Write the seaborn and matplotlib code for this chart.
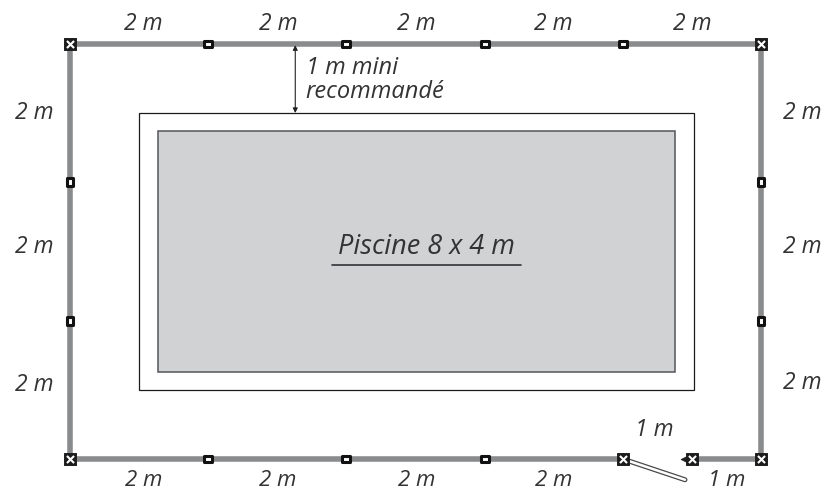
import matplotlib
matplotlib.use('Agg')
import matplotlib.pyplot as plt
from matplotlib.path import Path
from matplotlib.patches import Rectangle
import seaborn as sns

# everything in metres, origin = bottom left fence corner
fence_width = 10
fence_height = 6
gate_left = 8
gate_right = 9
gate_open = (8.9, -0.3)

posts_top = [2, 4, 6, 8]
posts_bottom = [2, 4, 6]
posts_side = [2, 4]

corners_x = [0, 10, 0, 10, 8, 9]
corners_y = [6, 6, 0, 0, 0, 0]

pool_outer = (1, 1, 8.03, 4)
pool_inner = (1.27, 1.26, 7.48, 3.48)

top_labels_x = [1.06, 3.01, 5.01, 7.0, 9.0]
bottom_labels_x = [1.06, 3.01, 5.01, 7.0]
left_labels_y = [5.0, 3.07, 1.07]
right_labels_y = [5.0, 3.07, 1.1]

FENCE = '#8a8b8d'
INK = '#333333'

sns.set_theme(style='white')
plt.rcParams['font.family'] = ['Open Sans', 'DejaVu Sans']

fig = plt.figure(figsize=(8.25, 4.92), dpi=100)
ax = fig.add_axes([0, 0, 1, 1])
ax.set_xlim(-70 / 69.1, 755 / 69.1)
ax.set_ylim(-33 / 69.2, 459 / 69.2)
ax.axis('off')

# pool
ax.add_patch(Rectangle(pool_outer[:2], pool_outer[2], pool_outer[3], fc='white', ec='#1a1a1a', lw=0.9))
ax.add_patch(Rectangle(pool_inner[:2], pool_inner[2], pool_inner[3], fc='#d1d2d4', ec='#55565a', lw=1.1))

# fence
fence_x = [gate_left, 0, 0, fence_width, fence_width, gate_right]
fence_y = [0, 0, fence_height, fence_height, 0, 0]
sns.lineplot(x=fence_x, y=fence_y, estimator=None, sort=False, color=FENCE, lw=4, ax=ax,
             solid_joinstyle='miter')

# gate leaf
gate_x = [gate_left, gate_open[0]]
gate_y = [0, gate_open[1]]
sns.lineplot(x=gate_x, y=gate_y, estimator=None, sort=False, color='#4a4a4a', lw=3.6, ax=ax)
sns.lineplot(x=gate_x, y=gate_y, estimator=None, sort=False, color='white', lw=1.8, ax=ax)

# intermediate posts, wider along the fence
flat = Path([(-1, -0.7), (1, -0.7), (1, 0.7), (-1, 0.7), (-1, -0.7)], closed=True)
tall = Path([(-0.7, -1), (0.7, -1), (0.7, 1), (-0.7, 1), (-0.7, -1)], closed=True)
sns.scatterplot(x=posts_top, y=[fence_height] * len(posts_top), marker=flat, s=32,
                color='white', edgecolor='#111111', linewidth=2.2, ax=ax, zorder=5)
sns.scatterplot(x=posts_bottom, y=[0] * len(posts_bottom), marker=flat, s=32,
                color='white', edgecolor='#111111', linewidth=2.2, ax=ax, zorder=5)
sns.scatterplot(x=[0] * 2 + [fence_width] * 2, y=posts_side * 2, marker=tall, s=32,
                color='white', edgecolor='#111111', linewidth=2.2, ax=ax, zorder=5)

# latch nib on the gate post
sns.scatterplot(x=[gate_right - 0.1], y=[0], marker='<', s=40, color='#1c1c1c', edgecolor='#1c1c1c', ax=ax, zorder=5)

# corner posts
sns.scatterplot(x=corners_x, y=corners_y, marker='s', s=70, color='#1c1c1c', edgecolor='#1c1c1c', ax=ax, zorder=5)
sns.scatterplot(x=corners_x, y=corners_y, marker='x', s=26, color='white', linewidth=1.5, ax=ax, zorder=6)

# dimension labels
label_kw = dict(style='italic', fontsize=16.5, color=INK, ha='center', va='center')
bottom_kw = dict(label_kw, fontsize=16)
for x in top_labels_x:
    ax.text(x, 6.28, '2 m', **label_kw)
for x in bottom_labels_x:
    ax.text(x, -0.31, '2 m', **bottom_kw)
for y in left_labels_y:
    ax.text(-0.51, y, '2 m', **label_kw)
for y in right_labels_y:
    ax.text(10.6, y, '2 m', **label_kw)
ax.text(8.45, 0.42, '1 m', **label_kw)
ax.text(9.51, -0.31, '1 m', **bottom_kw)

# 1 m clearance arrow
ax.annotate('', xy=(3.26, 5), xytext=(3.26, 6),
            arrowprops=dict(arrowstyle='<|-|>', color='#222222', lw=0.8, mutation_scale=7,
                            shrinkA=1, shrinkB=0))
ax.text(3.41, 5.65, '1 m mini', style='italic', fontsize=17, color=INK, va='center')
ax.text(3.41, 5.3, 'recommandé', style='italic', fontsize=17, color=INK, va='center')

# pool label
ax.text(5.16, 3.07, 'Piscine 8 x 4 m', style='italic', fontsize=19.5, color=INK, ha='center', va='center')
sns.lineplot(x=[3.79, 6.52], y=[2.8, 2.8], estimator=None, sort=False, color='#333338', lw=1.2, ax=ax)

fig.savefig('out.png', dpi=100)
